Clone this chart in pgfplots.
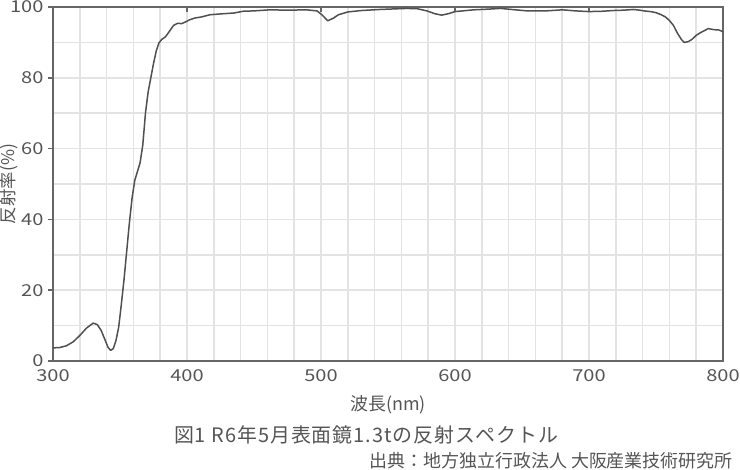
\documentclass[border=0pt]{standalone}
\usepackage{fontspec}
\setmainfont{Noto Sans CJK JP}
\newfontfamily\tickfont[FakeStretch=1.22]{Noto Sans CJK JP}
\usepackage{pgfplots}
\pgfplotsset{compat=1.18}

\definecolor{txt}{HTML}{555555}
\definecolor{axln}{HTML}{666666}
\definecolor{gridc}{HTML}{E3E3E3}
\definecolor{curve}{HTML}{505050}

\begin{document}
\begin{tikzpicture}
  \path[use as bounding box] (0,0) rectangle (740bp,470bp);
  \begin{axis}[
      at={(53bp,109bp)}, anchor=south west,
      scale only axis,
      width=670bp, height=354bp,
      xmin=300, xmax=800,
      ymin=0, ymax=100,
      xtick={300,400,...,800},
      minor xtick={320,340,...,780},
      ytick={0,20,...,100},
      minor ytick={10,30,...,90},
      grid=both,
      major grid style={gridc, line width=1.6bp},
      minor grid style={gridc, line width=1.6bp},
      axis line style={axln, line width=1.8bp},
      tick style={axln, line width=1.5bp},
      major tick length=5bp,
      minor tick length=0pt,
      xtick pos=upper, xticklabel pos=lower,
      ytick pos=left, ytick align=outside,
      xtick align=inside,
      /pgf/number format/assume math mode=true,
      ticklabel style={font=\tickfont\fontsize{16.5}{16.5}\selectfont, text=txt},
      xticklabel style={yshift=-5bp},
      yticklabel style={xshift=-1bp},
      xlabel={波長(nm)},
      ylabel={反射率(\%)},
      xlabel style={font=\fontsize{18}{18}\selectfont, text=txt,
        at={(axis description cs:0.5,-0.124)}, anchor=center},
      ylabel style={font=\fontsize{17.5}{17.5}\selectfont, text=txt,
        at={(axis description cs:-0.066,0.5)}, anchor=center},
    ]
    \addplot[curve, line width=1.5bp, line join=round, no marks] coordinates {
      (300,3.7) (305,3.8) (310,4.3) (315,5.4) (320,7.2) (325,9.3) (330,10.7)
      (333,10.3) (336,8.6) (339,5.8) (341,3.9) (343,3.0) (345,3.5) (347,5.8)
      (349,9.5) (351,16) (353,23) (355,31) (357,39) (359,46) (361,51)
      (363,53.5) (365,56) (367,61) (369,70) (371,76) (373,80) (375,84)
      (377,87.5) (379,89.8) (381,90.8) (384,91.6) (387,93.2) (390,94.8)
      (393,95.4) (396,95.3) (399,95.8) (402,96.4) (406,96.9) (411,97.2)
      (417,97.8) (427,98.1) (435,98.3) (442,98.8) (450,98.9) (462,99.2)
      (475,99.1) (489,99.2) (497,98.9) (501,97.7) (505,96.1) (509,96.8)
      (513,97.8) (520,98.6) (530,99.0) (544,99.3) (564,99.6) (572,99.5)
      (579,98.9) (585,98.1) (590,97.7) (595,98.1) (600,98.7) (614,99.2)
      (625,99.4) (634,99.6) (645,99.2) (654,98.9) (668,98.9) (680,99.2)
      (690,98.9) (700,98.7) (710,98.8) (718,99.0) (726,99.1) (733,99.3)
      (738,99.1) (741,98.9) (746,98.7) (750,98.4) (754,97.8) (757,97.2)
      (760,96.2) (763,94.8) (766,92.6) (769,90.8) (771,90.0) (774,90.2)
      (777,90.9) (780,92.0) (783,92.7) (786,93.3) (789,93.9) (793,93.6)
      (797,93.5) (800,93.0)
    };
  \end{axis}
  \node[text=txt, font=\fontsize{20}{20}\selectfont\addfontfeature{LetterSpace=5}, anchor=center]
    at (366bp,35bp) {図1 R6年5月表面鏡1.3tの反射スペクトル};
  \node[text=txt, font=\fontsize{18}{18}\selectfont, anchor=east]
    at (736bp,9bp) {出典：地方独立行政法人 大阪産業技術研究所};
\end{tikzpicture}
\end{document}
